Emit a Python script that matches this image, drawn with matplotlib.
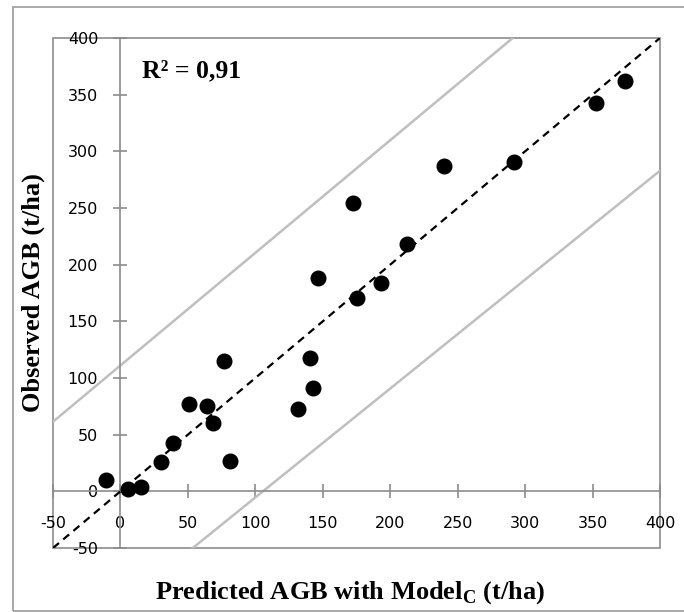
import matplotlib
matplotlib.use('Agg')
import matplotlib.pyplot as plt
from matplotlib.patches import Rectangle

# predicted (x) vs observed (y) AGB, t/ha
predicted = [-10.7, 5.9, 15.0, 29.9, 39.2, 51.1, 64.0, 68.4, 77.0, 81.2, 131.4,
             140.5, 142.5, 146.3, 172.2, 175.2, 193.0, 212.7, 240.1, 291.8, 352.3, 374.3]
observed = [10.0, 2.0, 4.1, 26.1, 42.9, 77.0, 75.3, 60.5, 115.0, 27.0, 72.3,
            117.6, 91.4, 188.5, 254.1, 170.3, 184.1, 217.9, 287.3, 290.3, 342.9, 362.3]

# 1:1 line and the two limit lines
one_to_one_x = [-50, 400]
one_to_one_y = [-50, 400]
upper_x = [-50, 290.8]
upper_y = [61.4, 400]
lower_x = [53.6, 400]
lower_y = [-50, 282.9]

ticks = [-50, 0, 50, 100, 150, 200, 250, 300, 350, 400]
tick_labels = ['-50', '0', '50', '100', '150', '200', '250', '300', '350', '400']
r2_text = 'R² = 0,91'

plt.rcParams['mathtext.fontset'] = 'custom'
plt.rcParams['mathtext.rm'] = 'Liberation Serif'
plt.rcParams['mathtext.bf'] = 'Liberation Serif:bold'

fig = plt.figure(figsize=(6.84, 6.12), dpi=100)
# outer chart border
fig.patches.append(Rectangle((13/684, 1-611/612), 1.0, 604/612, transform=fig.transFigure,
                             fill=False, edgecolor='#9a9a9a', linewidth=1.2))

ax = fig.add_axes([53/684, 1-548/612, 607/684, 510/612])
ax.set_xlim(-50, 400)
ax.set_ylim(-50, 400)

ax.plot(upper_x, upper_y, color='#bfbfbf', linewidth=1.8, zorder=2)
ax.plot(lower_x, lower_y, color='#bfbfbf', linewidth=1.8, zorder=2)
ax.plot(one_to_one_x, one_to_one_y, color='black', linewidth=1.6, linestyle=(0, (3.5, 2.5)), zorder=3)
ax.plot(predicted, observed, 'o', color='black', markersize=10.5, zorder=4)

ax.spines['left'].set_position(('data', 0))
ax.spines['bottom'].set_position(('data', 0))
ax.spines['top'].set_visible(False)
ax.spines['right'].set_visible(False)
for s in ['left', 'bottom']:
    ax.spines[s].set_color('#8c8c8c')
    ax.spines[s].set_linewidth(1.2)
ax.add_patch(Rectangle((0, 0), 1, 1, transform=ax.transAxes, fill=False,
                       edgecolor='#8c8c8c', linewidth=1.2, clip_on=False, zorder=1))

ax.set_xticks(ticks)
ax.set_xticklabels(tick_labels)
ax.set_yticks(ticks)
ax.set_yticklabels(tick_labels)
ax.tick_params(direction='inout', length=10, width=1.2, color='#8c8c8c',
               labelsize=11.5, labelcolor='black')
ax.tick_params(axis='x', pad=13)
ax.tick_params(axis='y', pad=11)
for lab in ax.get_xticklabels() + ax.get_yticklabels():
    lab.set_fontfamily('DejaVu Sans')

ax.text(16, 371, r2_text, fontsize=18.5, fontweight='bold', family='Liberation Serif',
        va='center', ha='left')

fig.text(350/684, 1-593/612, r'Predicted AGB with Model$_{\mathbf{C}}$ (t/ha)', fontsize=19,
         fontweight='bold', family='Liberation Serif', ha='center', va='center')
fig.text(33/684, 1-293/612, 'Observed AGB (t/ha)', fontsize=19, fontweight='bold',
         family='Liberation Serif', ha='center', va='center', rotation=90)

fig.savefig('out.png', dpi=100)
